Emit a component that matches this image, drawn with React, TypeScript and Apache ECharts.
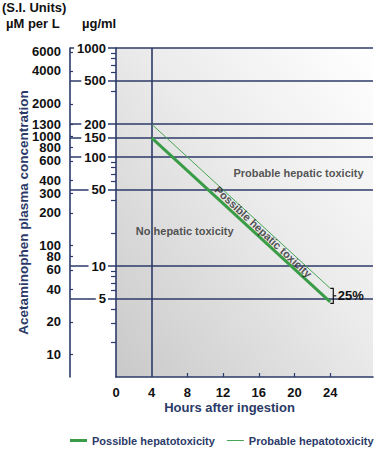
import React, { useEffect, useRef } from 'react';
import * as echarts from 'echarts';

// ---- data ----
const hourLabels = [0, 4, 8, 12, 16, 20, 24];
const hourTicks = [8, 12, 16, 20, 24];
const ugMajor = [5, 10, 50, 100, 150, 200, 500, 1000];
const ugMinor = [2, 3, 4, 6, 7, 8, 9, 20, 40, 60, 70, 80, 90, 400, 600, 700, 800, 900];
const umolLabels = [10, 20, 40, 60, 80, 100, 200, 300, 400, 600, 800, 1000, 1300, 2000, 4000, 6000];
const gridValues = [5, 10, 50, 100, 150, 200, 500, 1000];
const gridHour = [4];
const possibleLine = [[4, 150], [24, 4.7]];
const probableLine = [[4, 200], [24, 6.25]];
const bracketData = [[24.35, 6.25, 4.55]];
const bracketLabel = '25%';
const noteTexts = ['Probable hepatic toxicity', 'No hepatic toxicity', 'Possible hepatic toxicity'];
const noteHours = [20.45, 7.7, 16.5];
const noteUg = [71.8, 20.9, 20.6];
const noteRotate = [0, 0, -43];
const seriesNames = ['Possible hepatotoxicity', 'Probable hepatotoxicity'];
const UG_TO_UM = 6.5;
const Y_MIN = 0.96;
const Y_MAX = 1000;
const X_MAX = 28.8;

const NAVY = '#2b3a68';
const GREEN = '#3a9c47';
const GREEN_THIN = '#47a653';
const SANS = '"Liberation Sans", Arial, Helvetica, sans-serif';

const fmt = (v: number) => String(Math.round(v));

export default function App() {
  const ref = useRef<HTMLDivElement>(null);

  useEffect(() => {
    document.body.style.margin = '0';
    if (!ref.current) return;
    const chart = echarts.init(ref.current, null, { renderer: 'svg' });

    const tickLabelStyle = {
      color: '#111',
      fontSize: 13,
      fontWeight: 'bold' as const,
      fontFamily: SANS,
      formatter: fmt,
    };

    const option: any = {
      animation: false,
      grid: {
        left: 116,
        right: 4,
        top: 48,
        bottom: 72,
        show: true,
        borderWidth: 0,
        outerBoundsMode: 'none',
        backgroundColor: new echarts.graphic.LinearGradient(0, 1, 1, 0, [
          { offset: 0, color: '#c9c9c9' },
          { offset: 0.55, color: '#ebebeb' },
          { offset: 1, color: '#ffffff' },
        ]),
      },
      legend: {
        data: [
          { name: seriesNames[0], icon: 'path://M0,0L17,0L17,3L0,3Z' },
          { name: seriesNames[1], icon: 'path://M0,0L17,0L17,1L0,1Z' },
        ],
        left: 70,
        top: 435,
        padding: 0,
        width: 340,
        itemWidth: 17,
        itemHeight: 10,
        itemGap: 12,
        textStyle: { color: NAVY, fontSize: 11, fontWeight: 'bold', fontFamily: SANS },
      },
      graphic: [
        { type: 'text', left: 2, top: 1, style: { text: '(S.I. Units)', fill: '#111', font: `bold 13px ${SANS}` } },
        { type: 'text', left: 6, top: 17, style: { text: 'µM per L', fill: '#111', font: `bold 13px ${SANS}` } },
        { type: 'text', left: 82, top: 17, style: { text: 'µg/ml', fill: '#111', font: `bold 13px ${SANS}` } },
      ],
      xAxis: {
        type: 'value',
        min: 0,
        max: X_MAX,
        axisLine: { show: true, onZero: false, lineStyle: { color: NAVY, width: 1.6 } },
        axisTick: { show: true, inside: true, length: 4, customValues: hourTicks, lineStyle: { color: NAVY, width: 1.2 } },
        axisLabel: { ...tickLabelStyle, customValues: hourLabels, margin: 9 },
        splitLine: { show: false },
        name: 'Hours after ingestion',
        nameLocation: 'middle',
        nameGap: 24,
        nameMoveOverlap: false,
        nameTextStyle: { color: NAVY, fontSize: 13, fontWeight: 'bold', fontFamily: SANS, padding: [0, 30, 0, 0] },
      },
      yAxis: [
        {
          type: 'log',
          min: Y_MIN,
          max: Y_MAX,
          position: 'left',
          offset: 0,
          axisLine: { show: true, lineStyle: { color: NAVY, width: 1.6 } },
          axisTick: { show: true, inside: false, length: 5, customValues: ugMinor, lineStyle: { color: NAVY, width: 1.2 } },
          axisLabel: { show: false },
          splitLine: { show: false },
        },
        {
          type: 'log',
          min: Y_MIN,
          max: Y_MAX,
          position: 'left',
          offset: 0,
          axisLine: { show: false },
          axisTick: { show: true, inside: false, length: 46, customValues: ugMajor, lineStyle: { color: NAVY, width: 1.6 } },
          axisLabel: { ...tickLabelStyle, customValues: ugMajor, margin: 8, backgroundColor: '#ffffff', padding: [0, 2, 0, 3] },
          splitLine: { show: false },
        },
        {
          type: 'log',
          min: Y_MIN * UG_TO_UM,
          max: Y_MAX * UG_TO_UM,
          position: 'left',
          offset: 46,
          axisLine: { show: true, lineStyle: { color: NAVY, width: 1.6 } },
          axisTick: { show: true, inside: true, length: 3, customValues: umolLabels, lineStyle: { color: NAVY, width: 1.2 } },
          axisLabel: { ...tickLabelStyle, customValues: umolLabels, margin: 9 },
          splitLine: { show: false },
          name: 'Acetaminophen plasma concentration',
          nameLocation: 'middle',
          nameGap: 39.5,
          nameMoveOverlap: false,
          nameTextStyle: { color: NAVY, fontSize: 13.5, fontWeight: 'bold', fontFamily: SANS },
        },
      ],
      series: [
        {
          name: 'gridlines',
          type: 'line',
          xAxisIndex: 0,
          yAxisIndex: 0,
          data: [],
          z: 1,
          silent: true,
          markLine: {
            silent: true,
            symbol: 'none',
            label: { show: false },
            lineStyle: { color: NAVY, width: 1.6, type: 'solid' },
            data: [...gridValues.map((v) => ({ yAxis: v })), ...gridHour.map((h) => ({ xAxis: h }))],
          },
        },
        {
          name: seriesNames[0],
          type: 'line',
          xAxisIndex: 0,
          yAxisIndex: 0,
          data: possibleLine,
          symbol: 'none',
          z: 5,
          lineStyle: { color: GREEN, width: 3 },
          itemStyle: { color: GREEN },
        },
        {
          name: seriesNames[1],
          type: 'line',
          xAxisIndex: 0,
          yAxisIndex: 0,
          data: probableLine,
          symbol: 'none',
          z: 5,
          lineStyle: { color: GREEN_THIN, width: 1 },
          itemStyle: { color: GREEN_THIN },
        },
        {
          name: 'notes',
          type: 'scatter',
          xAxisIndex: 0,
          yAxisIndex: 0,
          symbolSize: 0,
          silent: true,
          z: 6,
          data: noteTexts.map((t, i) => ({
            name: t,
            value: [noteHours[i], noteUg[i]],
            label: { rotate: noteRotate[i] },
          })),
          label: {
            show: true,
            position: 'inside',
            formatter: (p: any) => p.name,
            color: '#2a2a2a',
            fontSize: 11,
            fontWeight: 'bold',
            fontFamily: SANS,
          },
        },
        {
          name: 'bracket',
          type: 'custom',
          xAxisIndex: 0,
          yAxisIndex: 0,
          silent: true,
          z: 6,
          data: bracketData,
          renderItem: (params: any, api: any) => {
            const x = api.value(0);
            const top = api.coord([x, api.value(1)]);
            const bot = api.coord([x, api.value(2)]);
            const mid = (top[1] + bot[1]) / 2;
            return {
              type: 'group',
              children: [
                {
                  type: 'polyline',
                  shape: { points: [[top[0] - 3, top[1]], [top[0], top[1]], [bot[0], bot[1]], [bot[0] - 3, bot[1]]] },
                  style: { stroke: '#111', lineWidth: 1.2, fill: null },
                },
                {
                  type: 'line',
                  shape: { x1: top[0], y1: mid, x2: top[0] + 3, y2: mid },
                  style: { stroke: '#111', lineWidth: 1.2 },
                },
                {
                  type: 'text',
                  x: top[0] + 4.5,
                  y: mid,
                  style: {
                    text: bracketLabel,
                    fill: '#111',
                    font: `bold 13px ${SANS}`,
                    align: 'left',
                    verticalAlign: 'middle',
                  },
                },
              ],
            };
          },
        },
      ],
    };

    chart.setOption(option);
    return () => chart.dispose();
  }, []);

  return <div ref={ref} style={{ width: 377, height: 449 }} />;
}
